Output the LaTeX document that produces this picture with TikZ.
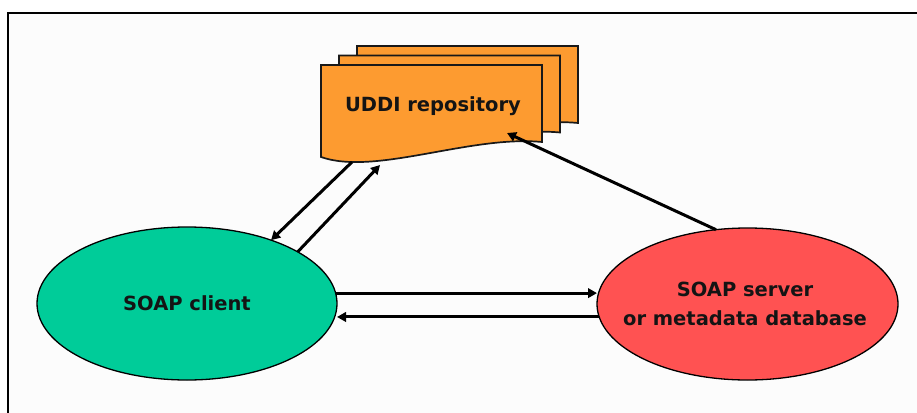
\documentclass[tikz,border=0pt]{standalone}
\usepackage{fontspec}
\setmainfont{DejaVu Sans}
\usetikzlibrary{shapes.geometric,arrows.meta}

\definecolor{clientgreen}{RGB}{0,204,153}
\definecolor{serverred}{RGB}{255,82,82}
\definecolor{docorange}{RGB}{253,155,48}
\definecolor{panel}{RGB}{252,252,252}

\tikzset{
  labeltext/.style={font=\fontsize{19.5}{29}\selectfont\bfseries, text=black!92, align=center},
  blob/.style={ellipse, draw=black, line width=1.3pt, minimum width=300pt,
               minimum height=153pt, inner sep=0pt, outer sep=0pt},
  sheet/.style={fill=docorange, draw=black!90, line width=1.7pt},
  link/.style={line width=3pt, draw=black, -{Triangle[length=9pt,width=9.5pt]}},
}

% one sheet of the repository stack, shifted by #1
\newcommand\repsheet[1]{%
  \begin{scope}[shift={#1}]
    \draw[sheet] (321,65) -- (542,65) -- (542,142)
      .. controls (470,135) and (375,176) .. (321,157) -- cycle;
  \end{scope}}

\begin{document}
\begin{tikzpicture}[x=1pt,y=-1pt]
  \useasboundingbox (0,0) rectangle (917,412);
  \clip (0,0) rectangle (917,412);
  \fill[white] (0,0) rectangle (917,412);

  % outer panel
  \draw[line width=2pt, fill=panel] (8,13) rectangle (940,440);

  % repository stack, back to front
  \repsheet{(36,-19)}
  \repsheet{(18,-9.5)}
  \repsheet{(0,0)}
  \node[labeltext] (uddi) at (433,106) {UDDI repository};

  % endpoints on the front sheet
  \coordinate (uddiOut) at (352,162);
  \coordinate (uddiIn)  at (380,165);
  \coordinate (uddiReg) at (507,133);

  % client and server
  \node[blob, fill=clientgreen] (client) at (187,303.5) {};
  \node[labeltext] (clientText) at (client) {SOAP client};
  \node[blob, fill=serverred, minimum width=301pt, minimum height=152pt]
        (server) at (747.5,304) {};
  \node[labeltext] (serverText) at (745,304) {SOAP server\\or metadata database};

  % connectors
  \draw[link] (uddiOut) -- (client.37.6);
  \draw[link] (client.25.7) -- (uddiIn);
  \draw[link] (server.113) -- (uddiReg);
  \draw[link] (client.4) -- (client.4 -| server.west);
  \draw[link] (server.-175.4) -- (server.-175.4 -| client.east);
\end{tikzpicture}
\end{document}
